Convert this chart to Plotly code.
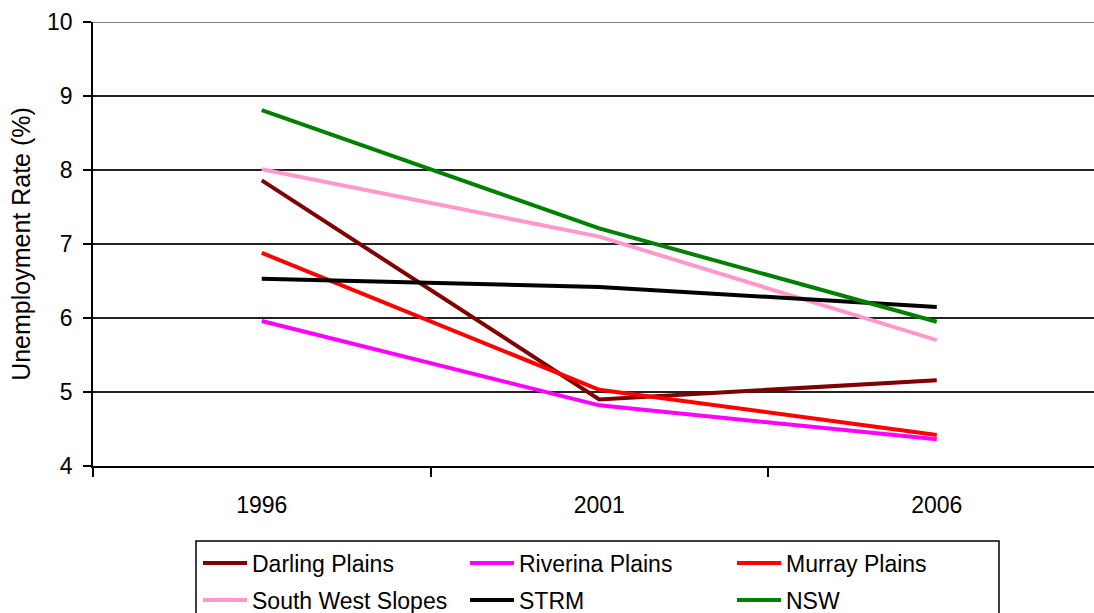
import plotly.graph_objects as go

years = ["1996", "2001", "2006"]
darling_plains = [7.86, 4.90, 5.16]
riverina_plains = [5.96, 4.82, 4.36]
murray_plains = [6.88, 5.03, 4.42]
south_west_slopes = [8.01, 7.10, 5.70]
strm = [6.53, 6.42, 6.15]
nsw = [8.81, 7.21, 5.95]

series = [
    ("Darling Plains", darling_plains, "#800000", "legend"),
    ("Riverina Plains", riverina_plains, "#FF00FF", "legend"),
    ("Murray Plains", murray_plains, "#FF0000", "legend"),
    ("South West Slopes", south_west_slopes, "#FF99CC", "legend2"),
    ("STRM", strm, "#000000", "legend2"),
    ("NSW", nsw, "#008000", "legend2"),
]

FONT = "Liberation Sans, Arial, sans-serif"

fig = go.Figure()
for name, vals, color, lg in series:
    fig.add_trace(go.Scatter(
        x=years, y=vals, name=name, mode="lines",
        line=dict(color=color, width=4), legend=lg,
    ))

W, H = 1094, 613
L, R, T, B = 93, 0, 22, 147
pw, ph = W - L - R, H - T - B


def py(p):
    return (T + ph - p) / ph


def px(p):
    return (p - L) / pw


legend_common = dict(
    orientation="h", xanchor="left", yanchor="middle",
    borderwidth=0, bgcolor="rgba(0,0,0,0)",
    font=dict(family=FONT, size=23, color="black"),
    entrywidth=208, entrywidthmode="pixels", itemwidth=44,
    traceorder="normal",
)

fig.update_layout(
    width=W, height=H,
    margin=dict(l=L, r=R, t=T, b=B, autoexpand=False),
    paper_bgcolor="white", plot_bgcolor="white",
    font=dict(family=FONT, size=23, color="black"),
    showlegend=True,
    legend=dict(x=px(198), y=py(563), **legend_common),
    legend2=dict(x=px(198), y=py(600), **legend_common),
    xaxis=dict(
        type="category",
        range=[-0.5, -0.5 + pw / 337.5],
        tickson="boundaries",
        ticks="outside", ticklen=9, tickwidth=1.5, tickcolor="black",
        showgrid=False, showline=True, linecolor="black", linewidth=1.5,
        tickfont=dict(family=FONT, size=23, color="black"),
        ticklabelstandoff=18,
        zeroline=False,
    ),
    yaxis=dict(
        range=[4, 10], dtick=1, tick0=4,
        ticks="outside", ticklen=8, tickwidth=1.5, tickcolor="black",
        showgrid=True, gridcolor="#222222", gridwidth=1.5,
        showline=True, linecolor="black", linewidth=1.5,
        zeroline=False,
        tickfont=dict(family=FONT, size=23, color="black"),
        ticklabelstandoff=6,
        title=dict(text="Unemployment Rate (%)", font=dict(family=FONT, size=25, color="black"), standoff=9),
    ),
    shapes=[
        dict(type="line", xref="paper", yref="y", x0=0, x1=1, y0=10, y1=10,
             line=dict(color="#808080", width=2), layer="above"),
        dict(type="rect", xref="paper", yref="paper", x0=px(196), x1=px(999),
             y0=py(630), y1=py(541), line=dict(color="black", width=1.5),
             fillcolor="rgba(0,0,0,0)", layer="below"),
    ],
)

fig.write_html(
    "out.html",
    config={"displayModeBar": False},
    post_script="document.body.style.margin='0';document.body.style.overflow='hidden';",
)
